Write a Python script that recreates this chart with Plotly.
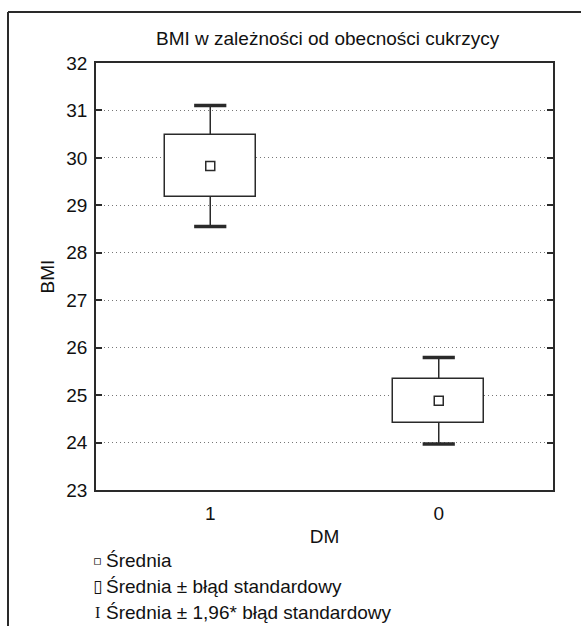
import plotly.graph_objects as go

# ---- data ----
categories = ["1", "0"]
means = [29.83, 24.88]
std_err = [0.65, 0.465]
z_factor = 1.96
y_ticks = [23, 24, 25, 26, 27, 28, 29, 30, 31, 32]
title_text = "BMI w zależności od obecności cukrzycy"
x_title = "DM"
y_title = "BMI"
legend_labels = ["Średnia", "Średnia ± błąd standardowy", "Średnia ± 1,96* błąd standardowy"]

FONT = "Liberation Sans, Arial, Helvetica, sans-serif"
FS = 19
INK = "#2a2a2a"
TXT = "#111111"

box_low = [m - s for m, s in zip(means, std_err)]
box_high = [m + s for m, s in zip(means, std_err)]
ci_low = [m - z_factor * s for m, s in zip(means, std_err)]
ci_high = [m + z_factor * s for m, s in zip(means, std_err)]
box_len = [2 * s for s in std_err]
stem_len = [(z_factor - 1) * s for s in std_err]

fig = go.Figure()

# boxes (mean ± SE)
fig.add_trace(go.Bar(
    x=categories, y=box_len, base=box_low, width=0.4,
    marker=dict(color="white", line=dict(color=INK, width=1.5)),
    hoverinfo="skip", showlegend=False,
))

# whisker stems (from box edges outward)
fig.add_trace(go.Scatter(
    x=categories + categories,
    y=box_high + box_low,
    mode="markers", marker=dict(size=1, opacity=0),
    error_y=dict(type="data", symmetric=False,
                 array=stem_len + [0] * len(categories),
                 arrayminus=[0] * len(categories) + stem_len,
                 width=0, thickness=1.5, color=INK),
    hoverinfo="skip", showlegend=False,
))

# whisker caps
fig.add_trace(go.Scatter(
    x=categories + categories,
    y=ci_high + ci_low,
    mode="markers",
    marker=dict(symbol="line-ew", size=23, line=dict(width=3.5, color=INK)),
    hoverinfo="skip", showlegend=False,
))

# mean markers
fig.add_trace(go.Scatter(
    x=categories, y=means, mode="markers",
    marker=dict(symbol="square", size=9, color="white", line=dict(width=1.5, color=INK)),
    hoverinfo="skip", showlegend=False,
))

W, H = 581, 626
L, R, T, B = 96, 28, 63, 136
pw, ph = W - L - R, H - T - B

def px_x(x):
    return (x - L) / pw

def px_y(y):
    return (H - B - y) / ph

shapes = [
    dict(type="line", xref="paper", yref="paper", x0=px_x(8), x1=px_x(W + 5), y0=px_y(12), y1=px_y(12),
         line=dict(color=INK, width=2)),
    dict(type="line", xref="paper", yref="paper", x0=px_x(8), x1=px_x(8), y0=px_y(12), y1=px_y(H + 5),
         line=dict(color=INK, width=2)),
]

annotations = [
    dict(text=title_text, xref="paper", yref="paper", x=px_x(328), y=px_y(39), xanchor="center", yanchor="middle",
         showarrow=False, font=dict(family=FONT, size=FS, color=TXT)),
]
glyphs = ["▫", "▯", "I"]
glyph_fonts = ["DejaVu Sans", "DejaVu Sans", "Liberation Serif, DejaVu Serif"]
glyph_sizes = [13, 17, 16]
rows_y = [560, 586, 612]
for g, gf, gs, lab, ry in zip(glyphs, glyph_fonts, glyph_sizes, legend_labels, rows_y):
    annotations.append(dict(text=g, xref="paper", yref="paper", x=px_x(97), y=px_y(ry),
                            xanchor="center", yanchor="middle", showarrow=False,
                            font=dict(family=gf, size=gs, color=TXT)))
    annotations.append(dict(text=lab, xref="paper", yref="paper", x=px_x(104), y=px_y(ry),
                            xanchor="left", yanchor="middle", showarrow=False,
                            font=dict(family=FONT, size=FS, color=TXT)))

fig.update_layout(
    width=W, height=H,
    margin=dict(l=L, r=R, t=T, b=B, pad=0),
    paper_bgcolor="white", plot_bgcolor="white",
    font=dict(family=FONT, size=FS, color=TXT),
    shapes=shapes, annotations=annotations,
    showlegend=False, bargap=0,
)
fig.update_xaxes(
    type="category", categoryorder="array", categoryarray=categories,
    range=[-0.5, 1.5], showline=True, linecolor=INK, linewidth=1.5, mirror=True,
    showgrid=False, ticks="", tickfont=dict(family=FONT, size=FS, color=TXT),
    ticklabelstandoff=5,
    title=dict(text=x_title, font=dict(family=FONT, size=FS, color=TXT), standoff=7),
)
fig.update_yaxes(
    range=[23, 32], tickvals=y_ticks, ticktext=[str(v) for v in y_ticks],
    showline=True, linecolor=INK, linewidth=1.5, mirror="ticks",
    ticks="inside", ticklen=6, tickcolor=INK, tickwidth=1.5,
    showgrid=True, gridcolor="#777", gridwidth=1, griddash="1px,3px",
    zeroline=False, tickfont=dict(family=FONT, size=FS, color=TXT),
    ticklabelstandoff=3,
    title=dict(text=y_title, font=dict(family=FONT, size=FS, color=TXT), standoff=7),
)

fig.write_html("out.html", config={"displayModeBar": False},
               post_script="document.body.style.margin='0';document.body.style.overflow='hidden';")
